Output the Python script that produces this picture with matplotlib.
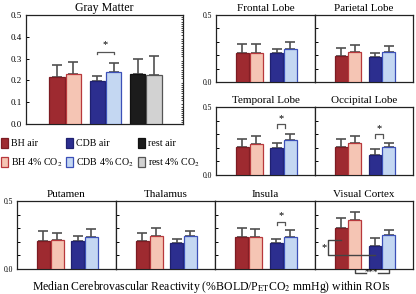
import matplotlib
matplotlib.use("Agg")
import matplotlib.pyplot as plt
from matplotlib.patches import Rectangle
import numpy as np

plt.rcParams['font.family'] = ['Liberation Serif', 'DejaVu Serif']
plt.rcParams['mathtext.fontset'] = 'stix'

# ---------------- data ----------------
conditions = ["BH air", "BH 4% CO$_2$", "CDB air", "CDB 4% CO$_2$", "rest air", "rest 4% CO$_2$"]
gm_vals = [0.214, 0.228, 0.196, 0.238, 0.229, 0.223]
gm_err = [0.056, 0.055, 0.024, 0.040, 0.069, 0.090]

frontal_vals = [0.220, 0.218, 0.218, 0.248]
frontal_err = [0.065, 0.067, 0.027, 0.047]
parietal_vals = [0.195, 0.225, 0.188, 0.225]
parietal_err = [0.060, 0.048, 0.030, 0.045]
temporal_vals = [0.208, 0.228, 0.201, 0.257]
temporal_err = [0.057, 0.056, 0.032, 0.043]
occipital_vals = [0.208, 0.233, 0.147, 0.206]
occipital_err = [0.057, 0.054, 0.042, 0.027]
putamen_vals = [0.203, 0.211, 0.203, 0.238]
putamen_err = [0.074, 0.054, 0.037, 0.056]
thalamus_vals = [0.208, 0.245, 0.194, 0.243]
thalamus_err = [0.057, 0.055, 0.026, 0.037]
insula_vals = [0.233, 0.233, 0.189, 0.235]
insula_err = [0.067, 0.064, 0.029, 0.054]
visual_vals = [0.300, 0.357, 0.171, 0.247]
visual_err = [0.075, 0.059, 0.054, 0.037]

# significance bracket heights (CDB air vs CDB 4% CO2)
sig_gm = 0.332
sig_temporal = 0.373
sig_occipital = 0.300
sig_insula = 0.345

fills = ["#9e2a30", "#f5c5b4", "#2c2e8f", "#c4d7f2", "#1c1c1c", "#d2d2d2"]
edges = ["#7c1b22", "#b8383c", "#1f2070", "#3c50b8", "#111111", "#555555"]

W, H = 416, 294
fig = plt.figure(figsize=(W / 100, H / 100), dpi=100)


def px_axes(x0, y0, x1, y1):
    return fig.add_axes([x0 / W, 1 - y1 / H, (x1 - x0) / W, (y1 - y0) / H])


BW = 0.38
OFF = 0.2


def draw_bars(ax, vals, errs, ngroups):
    for i, (v, e) in enumerate(zip(vals, errs)):
        g = i // 2
        x = g + (-OFF if i % 2 == 0 else OFF)
        ax.errorbar(x, v, yerr=[[0], [e]], fmt='none', ecolor='#505050',
                    elinewidth=1.2, capsize=3.8, capthick=1.2, zorder=2)
        ax.bar(x, v, width=BW, color=fills[i], edgecolor=edges[i], linewidth=0.9, zorder=3)
    ax.set_xlim(-0.97, ngroups - 1 + 0.92)
    ax.set_ylim(0, 0.5)
    ax.set_xticks([])
    for s in ax.spines.values():
        s.set_linewidth(0.9)
        s.set_color('#222222')


def small_panel(ax, title, vals, errs, label_y):
    draw_bars(ax, vals, errs, 2)
    ax.set_title(title, fontsize=8, pad=3)
    ax.set_yticks([0, 0.1, 0.2, 0.3, 0.4, 0.5])
    if label_y:
        ax.set_yticklabels(["0.0", "", "", "", "", "0.5"])
    else:
        ax.set_yticklabels([])
    ax.tick_params(axis='y', direction='in', length=2.5, width=0.7, labelsize=5.5, pad=3)


def bracket(ax, x0, x1, y, h=0.02, star_dy=0.035):
    ax.plot([x0, x0, x1, x1], [y - h, y, y, y - h], color='#555555', lw=0.9, zorder=4)
    ax.text((x0 + x1) / 2, y + star_dy, "*", ha='center', va='center', fontsize=7.5)


# Gray Matter
ax_gm = px_axes(26, 15, 183, 124)
draw_bars(ax_gm, gm_vals, gm_err, 3)
ax_gm.set_title("Gray Matter", fontsize=8.6, pad=3)
ax_gm.set_yticks(np.arange(0, 0.51, 0.1))
ax_gm.set_yticklabels(["0.0", "0.1", "0.2", "0.3", "0.4", "0.5"])
ax_gm.tick_params(axis='y', direction='in', length=2.5, width=0.7, labelsize=6.5, pad=3)
ax_gm.yaxis.set_minor_locator(matplotlib.ticker.MultipleLocator(0.01))
ax_gm.tick_params(axis='y', which='minor', direction='in', left=False, right=True, length=1.5, width=0.5)
bracket(ax_gm, 0.8, 1.2, sig_gm, h=0.012, star_dy=0.03)

# top right
ax_f = px_axes(216, 15, 315, 82)
small_panel(ax_f, "Frontal Lobe", frontal_vals, frontal_err, True)
ax_p = px_axes(315, 15, 413, 82)
small_panel(ax_p, "Parietal Lobe", parietal_vals, parietal_err, False)

ax_t = px_axes(216, 107, 315, 175)
small_panel(ax_t, "Temporal Lobe", temporal_vals, temporal_err, True)
bracket(ax_t, 0.8, 1.04, sig_temporal, h=0.025, star_dy=0.04)
ax_o = px_axes(315, 107, 413, 175)
small_panel(ax_o, "Occipital Lobe", occipital_vals, occipital_err, False)
bracket(ax_o, 0.8, 1.04, sig_occipital, h=0.025, star_dy=0.04)

# bottom row
ax_pu = px_axes(17, 201, 116, 269)
small_panel(ax_pu, "Putamen", putamen_vals, putamen_err, True)
ax_th = px_axes(116, 201, 215, 269)
small_panel(ax_th, "Thalamus", thalamus_vals, thalamus_err, False)
ax_in = px_axes(215, 201, 315, 269)
small_panel(ax_in, "Insula", insula_vals, insula_err, False)
bracket(ax_in, 0.82, 1.06, sig_insula, h=0.025, star_dy=0.05)
ax_vc = px_axes(315, 201, 413, 269)
small_panel(ax_vc, "Visual Cortex", visual_vals, visual_err, False)
# Visual cortex brackets
ax_vc.plot([-0.2, -0.58, -0.58, 0.8], [0.21, 0.21, 0.105, 0.105], color='#444444', lw=1.0, zorder=5, clip_on=False)
ax_vc.text(-0.71, 0.16, "*", ha='center', va='center', fontsize=7.5)
ax_vc.plot([0.2, 0.2, 0.52], [0.01, -0.028, -0.028], color='#444444', lw=1.0, clip_on=False)
ax_vc.plot([0.88, 1.2, 1.2], [-0.028, -0.028, 0.01], color='#444444', lw=1.0, clip_on=False)
ax_vc.text(0.7, -0.028, "***", ha='center', va='center', fontsize=6.5, clip_on=False)

# legend (drawn in pixel space)
lg = fig.add_axes([0, 0, 1, 1])
lg.set_xlim(0, W)
lg.set_ylim(H, 0)
lg.axis('off')
lg.patch.set_alpha(0)
col_x = [1, 66, 138]
row_y = [138, 157]
for i, lab in enumerate(conditions):
    c = i // 2
    r = i % 2
    lg.add_patch(Rectangle((col_x[c], row_y[r]), 7, 10, facecolor=fills[i], edgecolor=edges[i], lw=0.9))
    lg.text(col_x[c] + 10, row_y[r] + 5.5, lab, fontsize=7.2, va='center', ha='left')

fig.text(212 / W, 1 - 287 / H,
         "Median Cerebrovascular Reactivity (%BOLD/P$_{\\mathrm{ET}}$CO$_2$ mmHg) within ROIs",
         ha='center', va='center', fontsize=8.5)

fig.savefig("out.png", dpi=100)
